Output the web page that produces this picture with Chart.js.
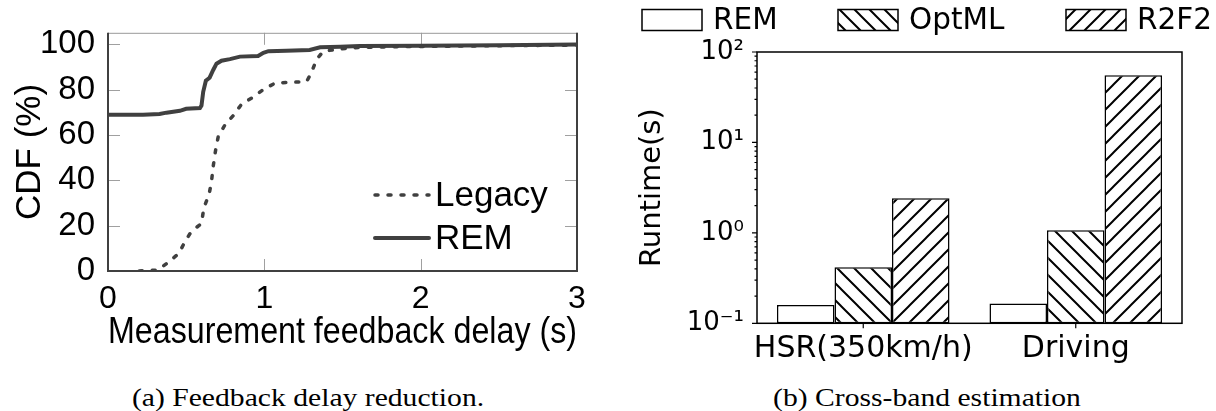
<!DOCTYPE html>
<html>
<head>
<meta charset="utf-8">
<script src="https://cdn.jsdelivr.net/npm/chart.js@4.4.1/dist/chart.umd.min.js"></script>
<style>
  body { margin: 0; background: #fff; width: 1216px; height: 411px; position: relative; overflow: hidden; }
  .box { position: absolute; top: 0; height: 380px; }
  #left { left: 0; width: 615px; }
  #right { left: 620px; width: 596px; }
  .cap { position: absolute; top: 384px; font-family: "Liberation Serif", serif; font-size: 26px; line-height: 28px;
         white-space: nowrap; transform: translateX(-50%) scaleX(1.14); }
</style>
</head>
<body>
<div class="box" id="left"><canvas id="cdfChart"></canvas></div>
<div class="box" id="right"><canvas id="runtimeChart"></canvas></div>
<div class="cap" style="left:308px">(a) Feedback delay reduction.</div>
<div class="cap" style="left:927px">(b) Cross-band estimation</div>
<script>
// (a) CDF of measurement feedback delay
var legacyX = [0.20, 0.32, 0.385, 0.455, 0.49, 0.534, 0.598, 0.613, 0.647, 0.662, 0.673, 0.688, 0.705, 0.748, 0.80, 0.855, 0.93, 0.994, 1.068, 1.165, 1.27, 1.30, 1.335, 1.378, 1.485, 1.61, 2.0, 2.5, 3.0];
var legacyY = [0, 0.4, 3.8, 7.9, 12.7, 17.5, 20.9, 27.8, 33.9, 39.4, 46.2, 53.1, 59.2, 64.4, 68.4, 73.6, 76.7, 80, 82.8, 83.2, 83.4, 87.3, 93.4, 96.9, 97.9, 98.6, 99.0, 99.3, 99.6];
var remX = [0, 0.224, 0.33, 0.374, 0.46, 0.50, 0.588, 0.598, 0.609, 0.626, 0.65, 0.673, 0.694, 0.726, 0.78, 0.844, 0.96, 0.994, 1.026, 1.14, 1.29, 1.357, 1.485, 1.61, 2.0, 2.5, 3.0];
var remY = [68.9, 68.9, 69.2, 69.8, 70.6, 71.5, 71.8, 72.9, 79, 83.9, 85.2, 88.6, 91.4, 92.7, 93.4, 94.5, 94.8, 96.2, 96.9, 97.1, 97.4, 98.6, 98.9, 99.2, 99.3, 99.5, 99.8];
var cdfTicksX = [0, 1, 2, 3];
var cdfTicksY = [0, 20, 40, 60, 80, 100];

// (b) runtime of cross-band estimation
var scenarios = ["HSR(350km/h)", "Driving"];
var remRuntime = [0.159, 0.166];
var optmlRuntime = [0.416, 1.07];
var r2f2Runtime = [2.41, 55.2];
var runtimeTicks = [0.1, 1, 10, 100];
var runtimeTickLabels = ["10\u207B\u00B9", "10\u2070", "10\u00B9", "10\u00B2"];

var gray = '#404040';

function toPoints(xs, ys) {
  return xs.map(function (x, i) { return { x: x, y: ys[i] }; });
}

function hatch(dir, size) {
  var c = document.createElement('canvas');
  c.width = size; c.height = size;
  var g = c.getContext('2d');
  var q = size / 4;
  g.fillStyle = '#fff';
  g.fillRect(0, 0, size, size);
  g.strokeStyle = '#000';
  g.lineWidth = 2;
  g.beginPath();
  if (dir === '/') {
    g.moveTo(0, size); g.lineTo(size, 0);
    g.moveTo(-q, q); g.lineTo(q, -q);
    g.moveTo(size - q, size + q); g.lineTo(size + q, size - q);
  } else {
    g.moveTo(0, 0); g.lineTo(size, size);
    g.moveTo(size - q, -q); g.lineTo(size + q, q);
    g.moveTo(-q, size - q); g.lineTo(q, size + q);
  }
  g.stroke();
  return g.createPattern(c, 'repeat');
}

// inside ticks, box and legend of the CDF plot
var cdfDecor = {
  id: 'cdfDecor',
  beforeDatasetsDraw: function (chart) {
    var ctx = chart.ctx, a = chart.chartArea;
    ctx.save();
    ctx.strokeStyle = '#a0a0a0';
    ctx.lineWidth = 1;
    ctx.beginPath();
    cdfTicksY.forEach(function (v) {
      var y = Math.round(chart.scales.y.getPixelForValue(v)) + 0.5;
      ctx.moveTo(a.left, y); ctx.lineTo(a.left + 12, y);
      ctx.moveTo(a.right, y); ctx.lineTo(a.right - 12, y);
    });
    cdfTicksX.forEach(function (v) {
      var x = Math.round(chart.scales.x.getPixelForValue(v)) + 0.5;
      ctx.moveTo(x, a.bottom); ctx.lineTo(x, a.bottom - 12);
      ctx.moveTo(x, a.top); ctx.lineTo(x, a.top + 12);
    });
    ctx.stroke();
    ctx.restore();
  },
  afterDatasetsDraw: function (chart) {
    var ctx = chart.ctx, a = chart.chartArea;
    ctx.save();
    ctx.strokeStyle = '#999';
    ctx.lineWidth = 1;
    ctx.beginPath();
    ctx.moveTo(a.left, a.top + 0.5); ctx.lineTo(a.right, a.top + 0.5);
    ctx.stroke();
    ctx.strokeStyle = gray;
    ctx.lineWidth = 2;
    ctx.beginPath();
    ctx.moveTo(a.left, a.top); ctx.lineTo(a.left, a.bottom);
    ctx.lineTo(a.right, a.bottom); ctx.lineTo(a.right, a.top);
    ctx.stroke();

    // legend
    var lx = a.right - 202, ly = [195, 238];
    chart.data.datasets.forEach(function (ds, i) {
      ctx.strokeStyle = ds.borderColor;
      ctx.lineWidth = ds.borderWidth;
      ctx.lineCap = 'round';
      ctx.setLineDash(ds.borderDash || []);
      ctx.beginPath();
      ctx.moveTo(lx, ly[i]); ctx.lineTo(lx + 54, ly[i]);
      ctx.stroke();
      ctx.setLineDash([]);
      ctx.fillStyle = '#000';
      ctx.font = '35px "Liberation Sans"';
      ctx.textBaseline = 'middle';
      ctx.fillText(ds.label, lx + 60, ly[i] + 1);
    });
    ctx.restore();
  }
};

new Chart('cdfChart', {
  type: 'line',
  data: {
    datasets: [{
      label: 'Legacy',
      data: toPoints(legacyX, legacyY),
      borderColor: gray,
      borderWidth: 3.5,
      borderDash: [3, 10],
      borderCapStyle: 'round',
      pointRadius: 0,
      fill: false
    }, {
      label: 'REM',
      data: toPoints(remX, remY),
      borderColor: gray,
      borderWidth: 4,
      pointRadius: 0,
      fill: false
    }]
  },
  options: {
    responsive: true,
    maintainAspectRatio: false,
    animation: false,
    layout: { padding: { top: 15, right: 38, left: 0, bottom: 0 } },
    plugins: { legend: { display: false }, tooltip: { enabled: false } },
    scales: {
      x: {
        type: 'linear', min: 0, max: 3,
        afterFit: function (s) { s.height = 109; },
        afterBuildTicks: function (s) { s.ticks = cdfTicksX.map(function (v) { return { value: v }; }); },
        grid: { display: false, drawTicks: false },
        border: { display: false },
        ticks: { color: '#000', font: { family: 'Liberation Sans', size: 32 }, padding: 9, maxRotation: 0 },
        title: {
          display: true, text: 'Measurement feedback delay (s)', color: '#000',
          font: { family: 'Liberation Sans', size: 36 }, padding: { top: 0, bottom: 25 }
        }
      },
      y: {
        min: 0, max: 105,
        afterFit: function (s) { s.width = 108; },
        afterBuildTicks: function (s) { s.ticks = cdfTicksY.map(function (v) { return { value: v }; }); },
        grid: { display: false, drawTicks: false },
        border: { display: false },
        ticks: { color: '#000', font: { family: 'Liberation Sans', size: 33 }, padding: 13 },
        title: {
          display: true, text: 'CDF (%)', color: '#000',
          font: { family: 'Liberation Sans', size: 35 }, padding: { top: 9, bottom: 0 }
        }
      }
    }
  },
  plugins: [cdfDecor]
});

// frame, outer ticks and legend of the runtime plot
var runtimeDecor = {
  id: 'runtimeDecor',
  afterDatasetsDraw: function (chart) {
    var ctx = chart.ctx, a = chart.chartArea;
    var ys = chart.scales.y, xs = chart.scales.x;
    ctx.save();
    ctx.strokeStyle = '#000';
    ctx.lineWidth = 1.5;
    ctx.strokeRect(a.left, a.top, a.right - a.left, a.bottom - a.top);
    ctx.lineWidth = 1.2;
    ctx.beginPath();
    runtimeTicks.forEach(function (v, i) {
      var y = ys.getPixelForValue(v);
      ctx.moveTo(a.left, y); ctx.lineTo(a.left - 5, y);
      if (i < runtimeTicks.length - 1) {
        for (var m = 2; m < 10; m++) {
          var ym = ys.getPixelForValue(v * m);
          ctx.moveTo(a.left, ym); ctx.lineTo(a.left - 2.5, ym);
        }
      }
    });
    scenarios.forEach(function (s, i) {
      var x = xs.getPixelForValue(i);
      ctx.moveTo(x, a.bottom); ctx.lineTo(x, a.bottom + 5);
    });
    ctx.stroke();

    // legend across the top
    var bx = [22, 218, 446];
    ctx.font = '29.5px "DejaVu Sans"';
    ctx.textBaseline = 'middle';
    chart.data.datasets.forEach(function (ds, i) {
      ctx.fillStyle = ds.legendFill;
      ctx.fillRect(bx[i], 9.5, 60, 21);
      ctx.lineWidth = 1.5;
      ctx.strokeRect(bx[i], 9.5, 60, 21);
      ctx.fillStyle = '#000';
      ctx.fillText(ds.label, bx[i] + 71, 21);
    });
    ctx.restore();
  }
};

new Chart('runtimeChart', {
  type: 'bar',
  data: {
    labels: scenarios,
    datasets: [{
      label: 'REM', data: remRuntime,
      backgroundColor: '#fff', legendFill: '#fff'
    }, {
      label: 'OptML', data: optmlRuntime,
      backgroundColor: hatch('\\', 17), legendFill: hatch('\\', 15)
    }, {
      label: 'R2F2', data: r2f2Runtime,
      backgroundColor: hatch('/', 17), legendFill: hatch('/', 15)
    }]
  },
  options: {
    responsive: true,
    maintainAspectRatio: false,
    animation: false,
    layout: { padding: { top: 52, right: 34, left: 0, bottom: 0 } },
    datasets: {
      bar: { borderColor: '#000', borderWidth: 1.5, borderSkipped: false, categoryPercentage: 0.812, barPercentage: 1 }
    },
    plugins: { legend: { display: false }, tooltip: { enabled: false } },
    scales: {
      x: {
        offset: true,
        afterFit: function (s) { s.height = 56.7; },
        grid: { display: false, drawTicks: false },
        border: { display: false },
        ticks: { color: '#000', font: { family: 'DejaVu Sans', size: 30 }, padding: 8, maxRotation: 0, autoSkip: false }
      },
      y: {
        type: 'logarithmic', min: 0.1, max: 100,
        afterFit: function (s) { s.width = 137; },
        afterBuildTicks: function (s) { s.ticks = runtimeTicks.map(function (v) { return { value: v }; }); },
        grid: { display: false, drawTicks: false },
        border: { display: false },
        ticks: {
          color: '#000', font: { family: 'DejaVu Sans', size: 26 }, padding: 13,
          callback: function (v, i) { return runtimeTickLabels[i]; }
        },
        title: {
          display: true, text: 'Runtime(s)', color: '#000',
          font: { family: 'DejaVu Sans', size: 29 }, padding: { top: 15, bottom: 0 }
        }
      }
    }
  },
  plugins: [runtimeDecor]
});
</script>
</body>
</html>
